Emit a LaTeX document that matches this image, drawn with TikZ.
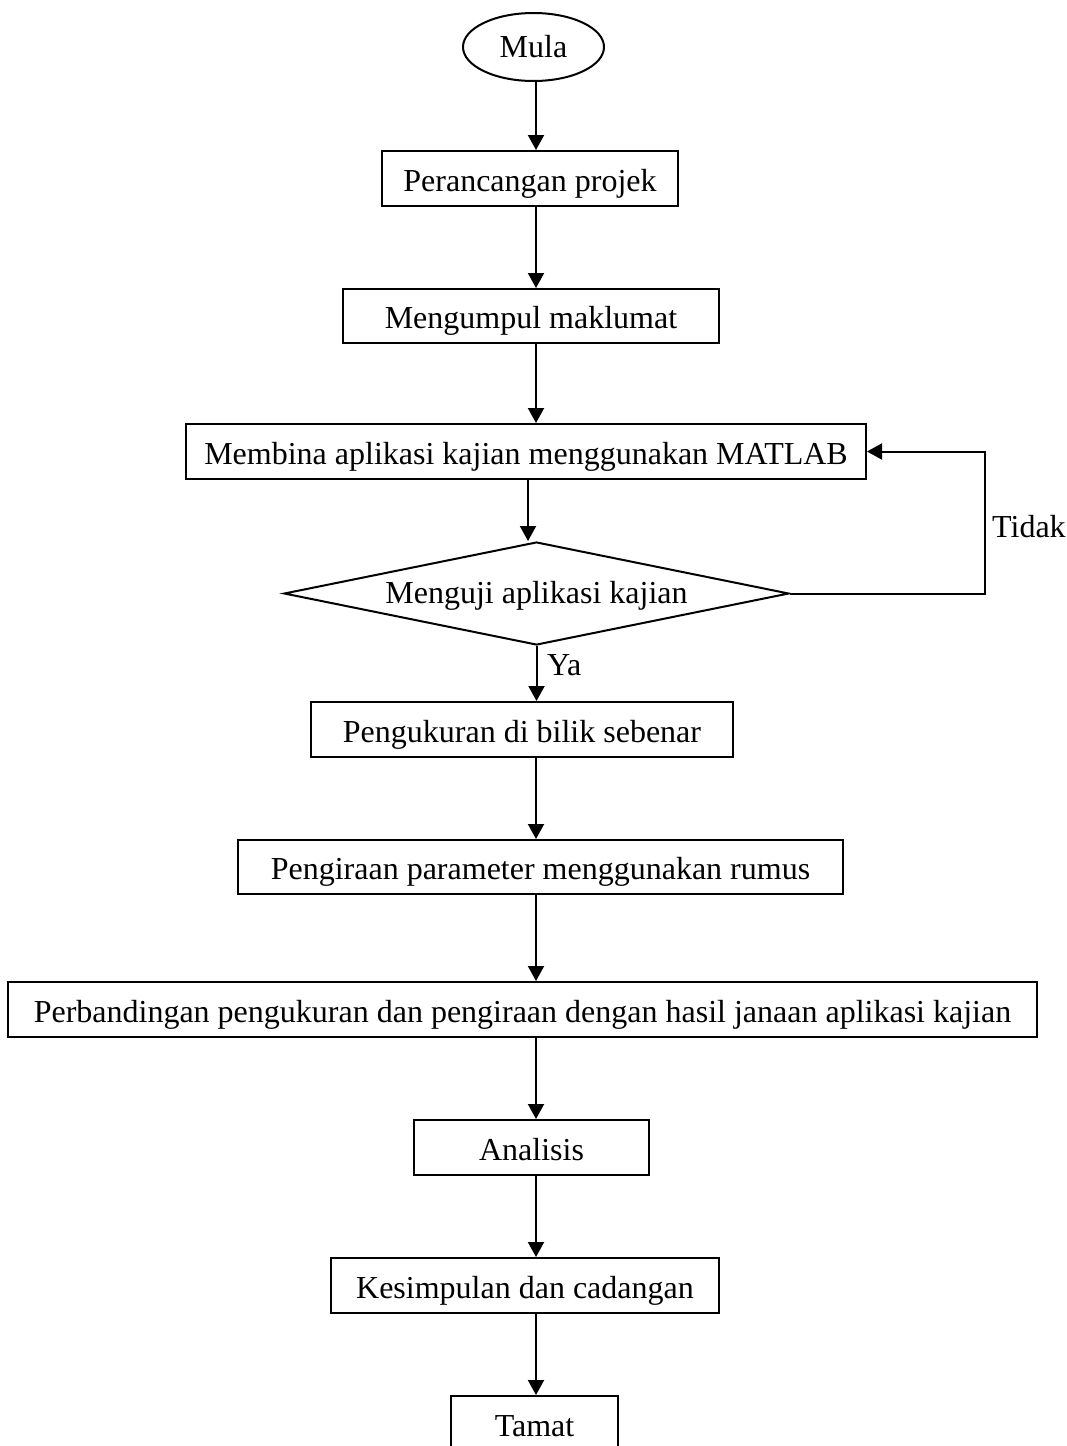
\documentclass[tikz,border=0pt]{standalone}
\usepackage{fontspec}
\setmainfont{Liberation Serif}
\usetikzlibrary{shapes.geometric,arrows.meta}
\begin{document}
\begin{tikzpicture}[x=1pt,y=-1pt,
  every node/.style={font=\fontsize{32}{38}\selectfont, inner sep=0pt},
  stepbox/.style={draw, line width=2pt, rectangle, minimum height=55pt, text height=25pt, text depth=0pt},
  startnode/.style={draw, line width=2pt, ellipse, minimum width=141pt, minimum height=68pt},
  decision/.style={draw, line width=2pt, diamond, minimum width=505pt, minimum height=103pt, aspect=4.9, text height=20pt, text depth=0pt},
  arr/.style={line width=2pt, -{Triangle[width=16pt,length=15pt]}},
  lbl/.style={anchor=base west}
]
\clip (0,0) rectangle (1067,1446);
\fill[white] (0,0) rectangle (1067,1446);
\coordinate (ax) at (536,0);
\coordinate (ax2) at (528,0);
\coordinate (lp) at (985,0);

\node[startnode] (mula) at (533.5,47) {Mula};
\node[stepbox, minimum width=296pt] (b1) at (530,178.5) {Perancangan projek};
\node[stepbox, minimum width=376pt, minimum height=54pt] (b2) at (531,316) {Mengumpul maklumat};
\node[stepbox, minimum width=680pt] (b3) at (526,451.5) {Membina aplikasi kajian menggunakan MATLAB};
\node[decision] (dia) at (536.5,593.5) {Menguji aplikasi kajian};
\node[stepbox, minimum width=422pt] (b4) at (522,729.5) {Pengukuran di bilik sebenar};
\node[stepbox, minimum width=605pt, minimum height=54pt] (b5) at (540.5,867) {Pengiraan parameter menggunakan rumus};
\node[stepbox, minimum width=1029pt] (b6) at (522.5,1009.5) {Perbandingan pengukuran dan pengiraan dengan hasil janaan aplikasi kajian};
\node[stepbox, minimum width=235pt] (b7) at (531.5,1147.5) {Analisis};
\node[stepbox, minimum width=388pt] (b8) at (525,1285.5) {Kesimpulan dan cadangan};
\node[stepbox, minimum width=167pt] (b9) at (534.5,1423.5) {Tamat};

\draw[arr] (mula.south -| ax) -- (b1.north -| ax);
\draw[arr] (b1.south -| ax) -- (b2.north -| ax);
\draw[arr] (b2.south -| ax) -- (b3.north -| ax);
\draw[arr] (b3.south -| ax2) -- (dia.north -| ax2);
\draw[arr] (dia.south) -- (b4.north -| dia.south);
\draw[arr] (b4.south -| ax) -- (b5.north -| ax);
\draw[arr] (b5.south -| ax) -- (b6.north -| ax);
\draw[arr] (b6.south -| ax) -- (b7.north -| ax);
\draw[arr] (b7.south -| ax) -- (b8.north -| ax);
\draw[arr] (b8.south -| ax) -- (b9.north -| ax);
\draw[arr] (dia.east) -- (dia.east -| lp) |- (b3.east);

\node[lbl] (tidak) at (992,537) {Tidak};
\node[lbl] (ya) at (547,675) {Ya};
\end{tikzpicture}
\end{document}
